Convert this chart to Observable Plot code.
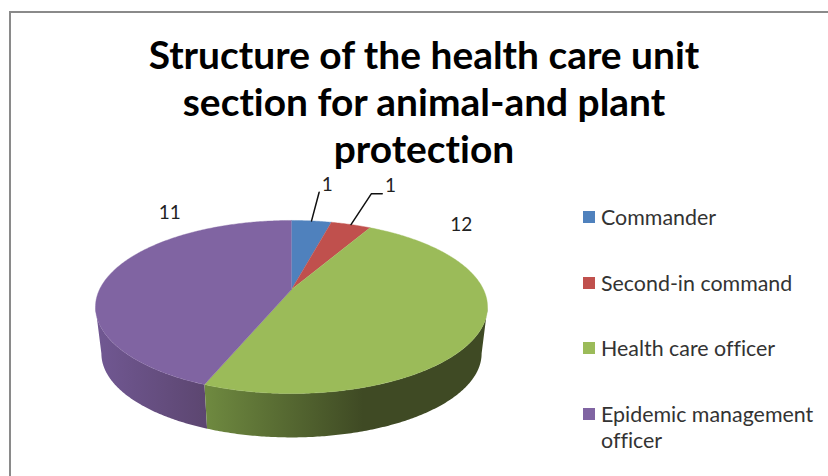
<!DOCTYPE html>
<html>
<head>
<meta charset="utf-8">
<script src="https://cdn.jsdelivr.net/npm/d3@7"></script>
<script src="https://cdn.jsdelivr.net/npm/@observablehq/plot@0.6"></script>
<style>
  html, body { margin: 0; background: #fff; }
  body { width: 828px; height: 476px; overflow: hidden; font-family: Lato, "Noto Sans", sans-serif; font-variant-ligatures: none; }
  #frame { position: absolute; left: 9px; top: 11px; right: 0; bottom: 0; border-left: 2px solid #8a8a8a; border-top: 2px solid #8a8a8a; }
  #title { position: absolute; left: 11px; width: 826px; top: 31px; text-align: center; font-weight: 700; font-size: 38.9px; line-height: 47px; color: #000; }
  #plot { position: absolute; left: 11px; top: 170px; }
  #legend { position: absolute; left: 583px; top: 0; width: 245px; font-size: 21.4px; line-height: 26px; color: #333; }
  .entry { position: absolute; left: 0; padding-left: 18px; }
  .entry i { position: absolute; left: 0; top: 7px; width: 12px; height: 12px; }
</style>
</head>
<body>
<div id="frame"></div>
<div id="title"></div>
<div id="plot"></div>
<div id="legend"></div>
<script>
// Staff counts per role
const categories = ["Commander", "Second-in command", "Health care officer", "Epidemic management officer"];
const counts = [1, 1, 12, 11];
const colors = ["#4f81bd", "#c0504d", "#9bbb59", "#8064a2"];
const titleLines = ["Structure of the health care unit", "section for animal-and plant", "protection"];

// Data label anchors in disc units, and the kinks of their leader lines
const labelSpots = [[0.182, 1.262], [0.505, 1.245], [0.866, 0.777], [-0.621, 0.918]];
const leaderKnees = [[[0.141, 1.172]], [[0.407, 1.153], [0.463, 1.153]], null, null];
const legendTops = [204, 270, 335, 401];

// Tilted disc with perspective: the far rim is compressed and the hub sits above the ellipse centre
const persp = 0.2023;
const depth = 0.566;
const baseShrink = 0.97;
const spread = Math.sqrt(1 - persp * persp);
const TAU = 2 * Math.PI;

function rim(theta, lower = false) {
  const c = Math.cos(theta), k = 1 + persp * c;
  const s = lower ? baseShrink : 1;
  return {x: (s * spread * Math.sin(theta)) / k, y: (s * c) / k - (lower ? depth : 0)};
}
function arc(a0, a1, lower = false) {
  const n = Math.max(2, Math.ceil(Math.abs(a1 - a0) / 0.01));
  return d3.range(n + 1).map((i) => rim(a0 + ((a1 - a0) * i) / n, lower));
}

// Slice angles come straight from the counts, clockwise from twelve o'clock
const total = d3.sum(counts);
const cum = d3.cumsum(counts);
const slices = categories.map((name, i) => ({
  name,
  a0: (TAU * (cum[i] - counts[i])) / total,
  a1: (TAU * cum[i]) / total
}));

const topFaces = slices.flatMap((s) => [{x: 0, y: 0, name: s.name}, ...arc(s.a0, s.a1).map((p) => ({...p, name: s.name}))]);

// Side walls run between the two silhouette tangents of the disc
const rightEdge = Math.acos(-persp);
const leftEdge = TAU - rightEdge;
const wall = (a0, a1) => [...arc(a0, a1), ...arc(a1, a0, true)];
const greenWall = wall(rightEdge, slices[2].a1);
const purpleWall = wall(slices[3].a0, leftEdge);

const labels = slices.map((s, i) => ({value: counts[i], x: labelSpots[i][0], y: labelSpots[i][1]}));
const leaders = slices.flatMap((s, i) =>
  leaderKnees[i] ? [rim((s.a0 + s.a1) / 2), ...leaderKnees[i].map(([x, y]) => ({x, y}))].map((p) => ({...p, i})) : []
);

const gradients = () => {
  const ns = "http://www.w3.org/2000/svg";
  const defs = document.createElementNS(ns, "defs");
  defs.innerHTML = `
    <linearGradient id="greenSide" x1="0" x2="1" y1="0" y2="0">
      <stop offset="0" stop-color="#6f8a40"/><stop offset="0.56" stop-color="#3f4a24"/><stop offset="1" stop-color="#3f4a24"/>
    </linearGradient>
    <linearGradient id="purpleSide" x1="0" x2="1" y1="0" y2="0">
      <stop offset="0" stop-color="#715893"/><stop offset="1" stop-color="#5c4670"/>
    </linearGradient>`;
  return defs;
};

const chart = Plot.plot({
  width: 540,
  height: 306,
  margin: 0,
  x: {domain: [-1, 1], range: [84, 476], axis: null},
  y: {domain: [-1, 1], range: [202, 36], axis: null},
  color: {domain: categories, range: colors},
  style: {background: "transparent", overflow: "visible"},
  marks: [
    gradients,
    Plot.line(purpleWall, {x: "x", y: "y", fill: "url(#purpleSide)", stroke: "none"}),
    Plot.line(greenWall, {x: "x", y: "y", fill: "url(#greenSide)", stroke: "none"}),
    Plot.line(topFaces, {x: "x", y: "y", z: "name", fill: "name", stroke: "name", strokeWidth: 0.4}),
    Plot.line(leaders, {x: "x", y: "y", z: "i", stroke: "#111", strokeWidth: 1.5, curve: "linear"}),
    Plot.text(labels, {x: "x", y: "y", text: "value", fontSize: 19, fill: "#222", fontFamily: "Lato, sans-serif"})
  ]
});
document.getElementById("plot").append(chart);

document.getElementById("title").innerHTML = titleLines.join("<br>");
const legend = document.getElementById("legend");
categories.forEach((name, i) => {
  const row = document.createElement("div");
  row.className = "entry";
  row.style.top = legendTops[i] + "px";
  const chip = document.createElement("i");
  chip.style.background = colors[i];
  row.append(chip, name);
  legend.append(row);
});
</script>
</body>
</html>
